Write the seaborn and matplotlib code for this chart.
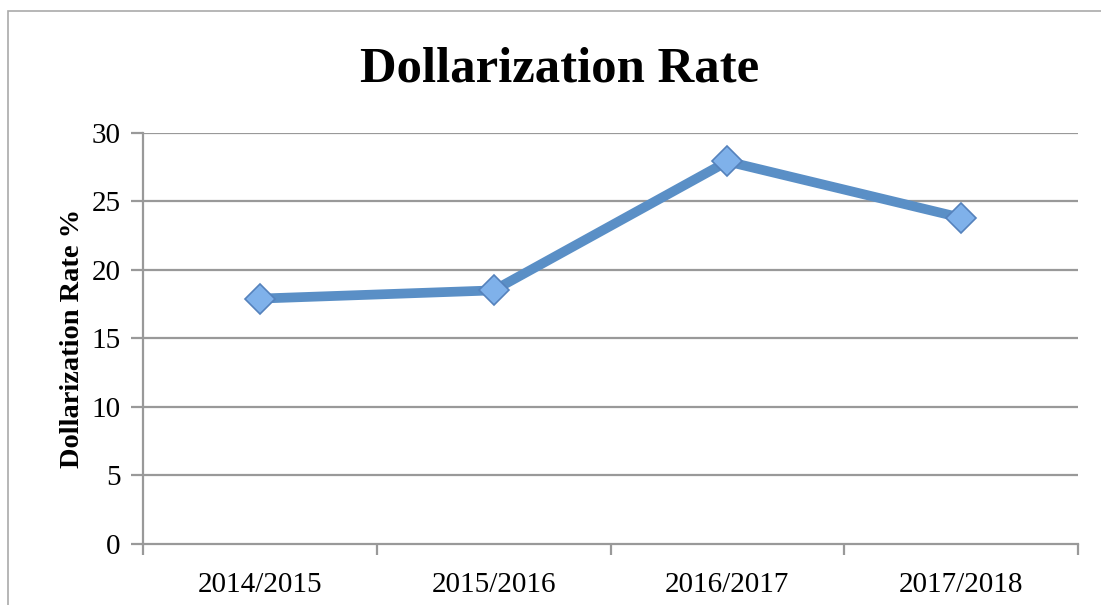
import pandas as pd
import seaborn as sns
import matplotlib.pyplot as plt
from matplotlib.patches import Rectangle

# chart data
years = ['2014/2015', '2015/2016', '2016/2017', '2017/2018']
rates = [17.9, 18.5, 27.9, 23.8]
y_ticks = [0, 5, 10, 15, 20, 25, 30]

df = pd.DataFrame({'year': years, 'rate': rates})

sns.set_theme(style="white")
plt.rcParams['font.family'] = ['Liberation Serif', 'DejaVu Serif']
plt.rcParams['text.color'] = 'black'
plt.rcParams['axes.labelcolor'] = 'black'
plt.rcParams['xtick.labelcolor'] = 'black'
plt.rcParams['ytick.labelcolor'] = 'black'

grid_col = '#999999'

fig = plt.figure(figsize=(11.01, 6.05), dpi=100)
ax = fig.add_axes([143 / 1101, 1 - 544 / 605, (1078 - 143) / 1101, (544 - 132.7) / 605])

# outer chart frame
fig.patches.append(Rectangle((8 / 1101, -0.05), 1.2, 1 - 11 / 605 + 0.05,
                             transform=fig.transFigure, fill=False,
                             edgecolor='#aaaaaa', linewidth=1.2))

sns.lineplot(data=df, x='year', y='rate', ax=ax, color='#5A8FC6', linewidth=7,
             marker='D', markersize=15, markerfacecolor='#7FB1EA',
             markeredgecolor='#5582BC', markeredgewidth=1.2, sort=False)

ax.set_xlim(-0.5, 3.5)
ax.set_ylim(0, 30)
ax.set_yticks(y_ticks)
ax.set_xticks(range(len(years)))
ax.set_xticklabels(years)
ax.set_xticks([i - 0.5 for i in range(len(years) + 1)], minor=True)

for y in y_ticks[1:]:
    ax.axhline(y, color=grid_col, linewidth=1.6, zorder=0)

for side in ['top', 'right']:
    ax.spines[side].set_visible(False)
for side in ['left', 'bottom']:
    ax.spines[side].set_color(grid_col)
    ax.spines[side].set_linewidth(1.6)

ax.tick_params(axis='y', which='major', left=True, length=9, width=1.6,
               color=grid_col, labelsize=21, pad=7)
ax.tick_params(axis='x', which='major', bottom=False, labelsize=21, pad=14)
ax.tick_params(axis='x', which='minor', bottom=True, length=8, width=1.6,
               color=grid_col)

ax.set_xlabel('')
ax.set_ylabel('Dollarization Rate %', fontsize=20.5, fontweight='bold', labelpad=5)
fig.text(560 / 1101, 1 - 69 / 605, 'Dollarization Rate', ha='center', va='center',
         fontsize=36.5, fontweight='bold')

fig.savefig('out.png', dpi=100, facecolor='white')
